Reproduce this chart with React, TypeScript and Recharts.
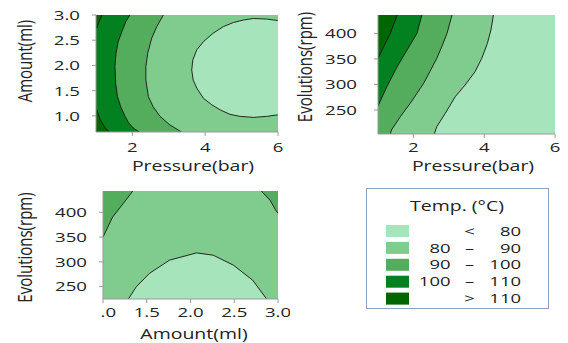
import React from 'react';
import { ComposedChart, Area, XAxis, YAxis, CartesianGrid } from 'recharts';

const FONT = '"Open Sans", "Noto Sans", sans-serif';
const INK = '#222';
const AXIS = '#9a9a9a';
const FRAME = '#cfcfcf';
const LINE = '#151515';

const COL = {
  lt80: '#a6e4bb',
  b80: '#80cb8e',
  b90: '#53ad5c',
  b100: '#03801f',
  gt110: '#006600',
};

// ---------- ticks ----------
const pressureTicks = [2, 4, 6];
const amountTicks = [1.0, 1.5, 2.0, 2.5, 3.0];
const rpmTicks = [250, 300, 350, 400];

// ---------- panel 1 : Pressure (x) vs Amount (y) ----------
const p1Lt80 = [
  { amount: 1.02, pressure: 5.99 },
  { amount: 0.99, pressure: 5.69 },
  { amount: 0.97, pressure: 5.32 },
  { amount: 0.99, pressure: 4.96 },
  { amount: 1.03, pressure: 4.68 },
  { amount: 1.12, pressure: 4.41 },
  { amount: 1.22, pressure: 4.18 },
  { amount: 1.35, pressure: 3.95 },
  { amount: 1.55, pressure: 3.77 },
  { amount: 1.71, pressure: 3.67 },
  { amount: 1.91, pressure: 3.63 },
  { amount: 2.11, pressure: 3.66 },
  { amount: 2.31, pressure: 3.77 },
  { amount: 2.47, pressure: 3.95 },
  { amount: 2.64, pressure: 4.22 },
  { amount: 2.77, pressure: 4.5 },
  { amount: 2.85, pressure: 4.77 },
  { amount: 2.9, pressure: 5.05 },
  { amount: 2.93, pressure: 5.32 },
  { amount: 2.92, pressure: 5.69 },
  { amount: 2.89, pressure: 5.99 },
];
const p1C90 = [
  { amount: 0.68, pressure: 3.35 },
  { amount: 0.82, pressure: 3.03 },
  { amount: 0.99, pressure: 2.76 },
  { amount: 1.18, pressure: 2.57 },
  { amount: 1.38, pressure: 2.44 },
  { amount: 1.71, pressure: 2.37 },
  { amount: 1.98, pressure: 2.37 },
  { amount: 2.24, pressure: 2.42 },
  { amount: 2.54, pressure: 2.53 },
  { amount: 2.77, pressure: 2.67 },
  { amount: 3.0, pressure: 2.85 },
];
const p1C100 = [
  { amount: 0.68, pressure: 2.19 },
  { amount: 0.76, pressure: 2.02 },
  { amount: 0.87, pressure: 1.89 },
  { amount: 0.99, pressure: 1.8 },
  { amount: 1.18, pressure: 1.68 },
  { amount: 1.38, pressure: 1.59 },
  { amount: 1.65, pressure: 1.54 },
  { amount: 1.98, pressure: 1.52 },
  { amount: 2.24, pressure: 1.55 },
  { amount: 2.47, pressure: 1.61 },
  { amount: 2.67, pressure: 1.71 },
  { amount: 2.87, pressure: 1.82 },
  { amount: 3.0, pressure: 1.93 },
];
const p1C110Low = [
  { amount: 0.68, pressure: 1.37 },
  { amount: 0.76, pressure: 1.25 },
  { amount: 0.92, pressure: 1.12 },
  { amount: 1.12, pressure: 1.02 },
];
const p1C110High = [
  { amount: 2.74, pressure: 1.02 },
  { amount: 2.82, pressure: 1.06 },
  { amount: 3.0, pressure: 1.16 },
];

// ---------- panel 2 : Pressure (x) vs Evolutions (y) ----------
const p2C80 = [
  { rpm: 203, pressure: 2.59 },
  { rpm: 217.2, pressure: 2.66 },
  { rpm: 243.4, pressure: 2.9 },
  { rpm: 275.9, pressure: 3.18 },
  { rpm: 298.8, pressure: 3.46 },
  { rpm: 324.9, pressure: 3.74 },
  { rpm: 351, pressure: 3.93 },
  { rpm: 380.4, pressure: 4.09 },
  { rpm: 406.5, pressure: 4.19 },
  { rpm: 436, pressure: 4.26 },
];
const p2C90 = [
  { rpm: 203, pressure: 1.35 },
  { rpm: 210.8, pressure: 1.38 },
  { rpm: 236.9, pressure: 1.63 },
  { rpm: 263, pressure: 1.91 },
  { rpm: 282.6, pressure: 2.1 },
  { rpm: 302.2, pressure: 2.29 },
  { rpm: 325.8, pressure: 2.47 },
  { rpm: 351, pressure: 2.66 },
  { rpm: 373.8, pressure: 2.8 },
  { rpm: 400, pressure: 2.95 },
  { rpm: 436, pressure: 3.09 },
];
const p2C100 = [
  { rpm: 257.7, pressure: 1.0 },
  { rpm: 295.5, pressure: 1.25 },
  { rpm: 334.6, pressure: 1.54 },
  { rpm: 367.3, pressure: 1.82 },
  { rpm: 400, pressure: 2.1 },
  { rpm: 436, pressure: 2.24 },
];
const p2C110 = [
  { rpm: 351, pressure: 1.0 },
  { rpm: 373.8, pressure: 1.16 },
  { rpm: 400, pressure: 1.35 },
  { rpm: 436, pressure: 1.54 },
];

// ---------- panel 3 : Amount (x) vs Evolutions (y) ----------
const p3Lt80 = [
  { amount: 1.29, rpm: 225 },
  { amount: 1.38, rpm: 249.6 },
  { amount: 1.53, rpm: 276.6 },
  { amount: 1.76, rpm: 303.4 },
  { amount: 2.07, rpm: 318.1 },
  { amount: 2.26, rpm: 313.4 },
  { amount: 2.49, rpm: 293.3 },
  { amount: 2.71, rpm: 263.1 },
  { amount: 2.87, rpm: 225 },
];
const p3C90Left = [
  { amount: 1.0, rpm: 350 },
  { amount: 1.11, rpm: 390.5 },
  { amount: 1.23, rpm: 417.5 },
  { amount: 1.34, rpm: 443 },
];
const p3C90Right = [
  { amount: 2.81, rpm: 443 },
  { amount: 2.91, rpm: 424.2 },
  { amount: 2.97, rpm: 405.4 },
  { amount: 3.0, rpm: 398 },
];

// ---------- legend ----------
const legendTitle = 'Temp. (°C)';
const legendLow = ['', '80', '90', '100', ''];
const legendSym = ['<', '–', '–', '–', '>'];
const legendHigh = ['80', '90', '100', '110', '110'];
const legendColors = [COL.lt80, COL.b80, COL.b90, COL.b100, COL.gt110];

// ---------- helpers ----------
function Tick(props: any) {
  const { x, y, payload, anchor = 'middle', digits = 0, clipId } = props;
  const t = (
    <text
      transform={`translate(${x},${y}) scale(1.38,1)`}
      textAnchor={anchor}
      dy="0.36em"
      fontSize={13.5}
      fontFamily={FONT}
      fill={INK}
    >
      {Number(payload.value).toFixed(digits)}
    </text>
  );
  if (clipId) {
    return (
      <g>
        <defs>
          <clipPath id={clipId}>
            <rect x={98} y={0} width={400} height={400} />
          </clipPath>
        </defs>
        <g clipPath={`url(#${clipId})`}>{t}</g>
      </g>
    );
  }
  return t;
}

const title = (cx: number, cy: number, rotate: boolean) => (props: any) => (
  <text
    transform={`translate(${cx},${cy}) scale(1.3,1)${rotate ? ' rotate(-90)' : ''}`}
    textAnchor="middle"
    dy="0.36em"
    fontSize={15}
    fontFamily={FONT}
    fill={INK}
  >
    {props.value}
  </text>
);

const areaCommon = {
  isAnimationActive: false,
  fillOpacity: 1,
  stroke: LINE,
  strokeWidth: 0.9,
  type: 'linear' as const,
  dot: false,
  activeDot: false,
};

const frameAxes = (xDomain: number[], yDomain: number[], rev: boolean) => [
  <XAxis
    key="ft"
    xAxisId="top"
    orientation="top"
    type="number"
    domain={xDomain}
    allowDataOverflow
    height={0}
    tick={false}
    tickLine={false}
    axisLine={{ stroke: FRAME }}
  />,
  <YAxis
    key="fr"
    yAxisId="right"
    orientation="right"
    type="number"
    domain={yDomain}
    reversed={rev}
    allowDataOverflow
    width={0}
    tick={false}
    tickLine={false}
    axisLine={{ stroke: FRAME }}
  />,
];

const legendText = (x: number, y: number, anchor: string, s: string) => (
  <text
    transform={`translate(${x},${y}) scale(1.42,1)`}
    textAnchor={anchor}
    dy="0.36em"
    fontSize={13}
    fontFamily={FONT}
    fill={INK}
  >
    {s}
  </text>
);

export default function App() {
  return (
    <div style={{ position: 'absolute', left: 0, top: 0, width: 568, height: 343, background: '#fff', overflow: 'hidden' }}>
      {/* Panel 1 */}
      <div style={{ position: 'absolute', left: 0, top: 0 }}>
        <ComposedChart width={290} height={180} layout="vertical" margin={{ top: 15, right: 12, bottom: 18, left: 36 }}>
          <CartesianGrid fill={COL.b80} stroke="none" horizontal={false} vertical={false} />
          <Area {...areaCommon} data={p1Lt80} dataKey="pressure" baseValue="dataMax" fill={COL.lt80} />
          <Area {...areaCommon} data={p1C90} dataKey="pressure" fill={COL.b90} />
          <Area {...areaCommon} data={p1C100} dataKey="pressure" fill={COL.b100} />
          <Area {...areaCommon} data={p1C110Low} dataKey="pressure" fill={COL.gt110} />
          <Area {...areaCommon} data={p1C110High} dataKey="pressure" fill={COL.gt110} />
          {frameAxes([1, 6], [0.68, 3], true)}
          <XAxis
            type="number"
            domain={[1, 6]}
            ticks={pressureTicks}
            allowDataOverflow
            height={30}
            tickSize={4}
            tickMargin={11}
            axisLine={{ stroke: AXIS }}
            tickLine={{ stroke: AXIS }}
            tick={<Tick anchor="middle" digits={0} />}
            label={{ value: 'Pressure(bar)', content: title(193, 166, false) }}
          />
          <YAxis
            type="number"
            dataKey="amount"
            domain={[0.68, 3]}
            reversed
            ticks={amountTicks}
            allowDataOverflow
            width={60}
            tickSize={4}
            tickMargin={12}
            axisLine={{ stroke: AXIS }}
            tickLine={{ stroke: AXIS }}
            tick={<Tick anchor="end" digits={1} />}
            label={{ value: 'Amount(ml)', content: title(25, 61, true) }}
          />
        </ComposedChart>
      </div>

      {/* Panel 2 */}
      <div style={{ position: 'absolute', left: 280, top: 0 }}>
        <ComposedChart width={288} height={180} layout="vertical" margin={{ top: 15, right: 13, bottom: 16, left: 38 }}>
          <CartesianGrid fill={COL.lt80} stroke="none" horizontal={false} vertical={false} />
          <Area {...areaCommon} data={p2C80} dataKey="pressure" fill={COL.b80} />
          <Area {...areaCommon} data={p2C90} dataKey="pressure" fill={COL.b90} />
          <Area {...areaCommon} data={p2C100} dataKey="pressure" fill={COL.b100} />
          <Area {...areaCommon} data={p2C110} dataKey="pressure" fill={COL.gt110} />
          {frameAxes([1, 6], [203, 436], true)}
          <XAxis
            type="number"
            domain={[1, 6]}
            ticks={pressureTicks}
            allowDataOverflow
            height={30}
            tickSize={4}
            tickMargin={9}
            axisLine={{ stroke: AXIS }}
            tickLine={{ stroke: AXIS }}
            tick={<Tick anchor="middle" digits={0} />}
            label={{ value: 'Pressure(bar)', content: title(193, 166, false) }}
          />
          <YAxis
            type="number"
            dataKey="rpm"
            domain={[203, 436]}
            reversed
            ticks={rpmTicks}
            allowDataOverflow
            width={60}
            tickSize={4}
            tickMargin={17}
            axisLine={{ stroke: AXIS }}
            tickLine={{ stroke: AXIS }}
            tick={<Tick anchor="end" digits={0} />}
            label={{ value: 'Evolutions(rpm)', content: title(25, 67, true) }}
          />
        </ComposedChart>
      </div>

      {/* Panel 3 */}
      <div style={{ position: 'absolute', left: 0, top: 170 }}>
        <ComposedChart width={290} height={173} margin={{ top: 21, right: 12, bottom: 14, left: 43 }}>
          <CartesianGrid fill={COL.b80} stroke="none" horizontal={false} vertical={false} />
          <Area {...areaCommon} data={p3Lt80} dataKey="rpm" fill={COL.lt80} />
          <Area {...areaCommon} data={p3C90Left} dataKey="rpm" baseValue="dataMax" fill={COL.b90} />
          <Area {...areaCommon} data={p3C90Right} dataKey="rpm" baseValue="dataMax" fill={COL.b90} />
          {frameAxes([1, 3], [225, 443], false)}
          <XAxis
            type="number"
            dataKey="amount"
            domain={[1, 3]}
            ticks={amountTicks}
            allowDataOverflow
            height={30}
            tickSize={4}
            tickMargin={9}
            axisLine={{ stroke: AXIS }}
            tickLine={{ stroke: AXIS }}
            tick={<Tick anchor="middle" digits={1} clipId="p3xclip" />}
            label={{ value: 'Amount(ml)', content: title(194, 163.5, false) }}
          />
          <YAxis
            type="number"
            domain={[225, 443]}
            ticks={rpmTicks}
            allowDataOverflow
            width={60}
            tickSize={4}
            tickMargin={12}
            axisLine={{ stroke: AXIS }}
            tickLine={{ stroke: AXIS }}
            tick={<Tick anchor="end" digits={0} />}
            label={{ value: 'Evolutions(rpm)', content: title(25, 77.5, true) }}
          />
        </ComposedChart>
      </div>

      {/* Legend */}
      <div
        style={{
          position: 'absolute',
          left: 366,
          top: 188,
          width: 181,
          height: 119,
          border: '1.5px solid #8aa3c0',
          background: '#fff',
        }}
      >
        <svg width={181} height={119} style={{ display: 'block' }}>
          <text
            transform="translate(90,17) scale(1.3,1)"
            textAnchor="middle"
            dy="0.36em"
            fontSize={15}
            fontFamily={FONT}
            fill={INK}
          >
            {legendTitle}
          </text>
          {legendColors.map((c, i) => {
            const cy = 42 + i * 16.9;
            return (
              <g key={i}>
                <rect x={19} y={cy - 6} width={23} height={12} fill={c} />
                {legendText(83.5, cy, 'end', legendLow[i])}
                {legendText(102.5, cy, 'middle', legendSym[i])}
                {legendText(154, cy, 'end', legendHigh[i])}
              </g>
            );
          })}
        </svg>
      </div>
    </div>
  );
}
